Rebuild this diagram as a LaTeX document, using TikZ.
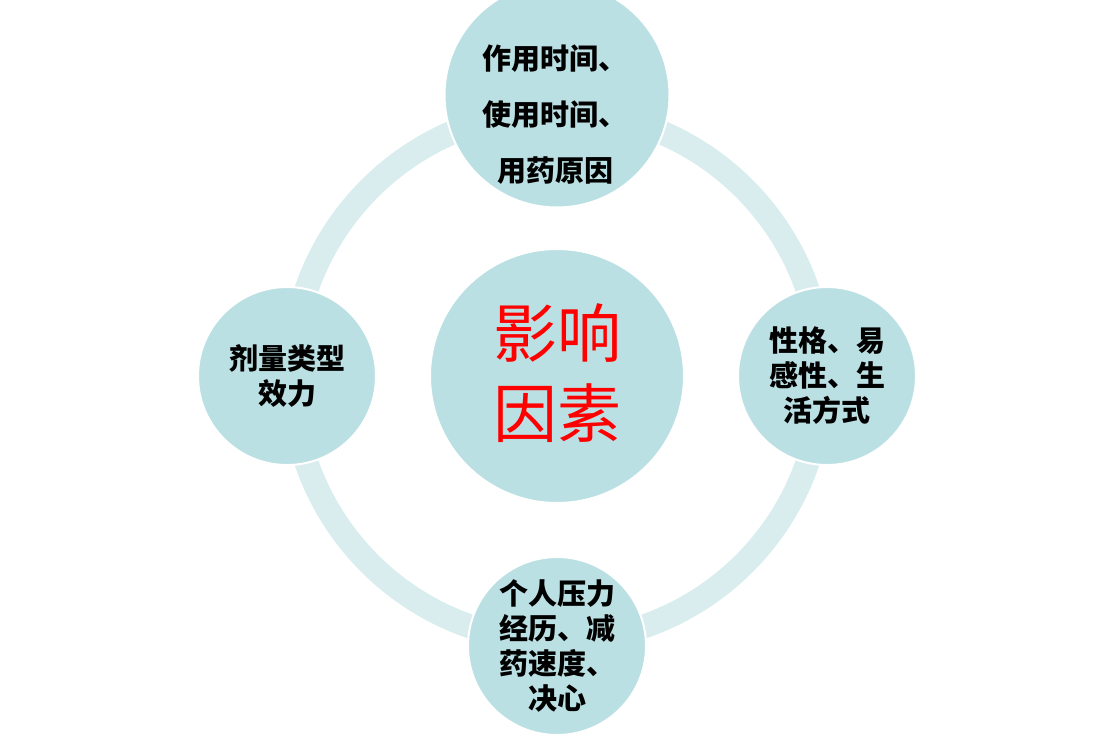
\documentclass[tikz,border=0pt]{standalone}
\usepackage{fontspec}
\newfontfamily\cjk{Noto Sans CJK SC}
\definecolor{ringc}{HTML}{DAEDEE}
\definecolor{circc}{HTML}{BBE0E3}
\definecolor{redt}{HTML}{FF0000}
\tikzset{
  bubble/.style={circle, fill=circc, draw=white, line width=2pt, inner sep=0pt},
  ringline/.style={draw=ringc, line width=24pt},
  lbl/.style={align=center, inner sep=0pt, text=black, font=\cjk\bfseries\fontsize{29}{35}\selectfont},
  ctr/.style={align=center, inner sep=0pt, text=redt, font=\cjk\fontsize{64}{80}\selectfont}
}
\begin{document}
\begin{tikzpicture}[x=1pt,y=-1pt]
\useasboundingbox (0,0) rectangle (1114,737);
\coordinate (o) at (557,376);
\draw[ringline] (o) circle (265);
\node[bubble, minimum size=254pt] (center) at (557,376) {};
\node[bubble, minimum size=225pt] (top) at (557,95) {};
\node[bubble, minimum size=178pt] (left) at (287,376) {};
\node[bubble, minimum size=178pt] (right) at (827,376) {};
\node[bubble, minimum size=178pt] (bottom) at (557,646) {};
\node[ctr] (ctext) at ([yshift=3pt]center.center) {影响\\因素};
\node[lbl, font=\cjk\bfseries\fontsize{29}{56}\selectfont] (ttext) at (555,115) {作用时间、\\使用时间、\\用药原因};
\node[lbl] (ltext) at (left.center) {剂量类型\\效力};
\node[lbl] (rtext) at (right.center) {性格、易\\感性、生\\活方式};
\node[lbl] (btext) at (bottom.center) {个人压力\\经历、减\\药速度、\\决心};
\end{tikzpicture}
\end{document}
